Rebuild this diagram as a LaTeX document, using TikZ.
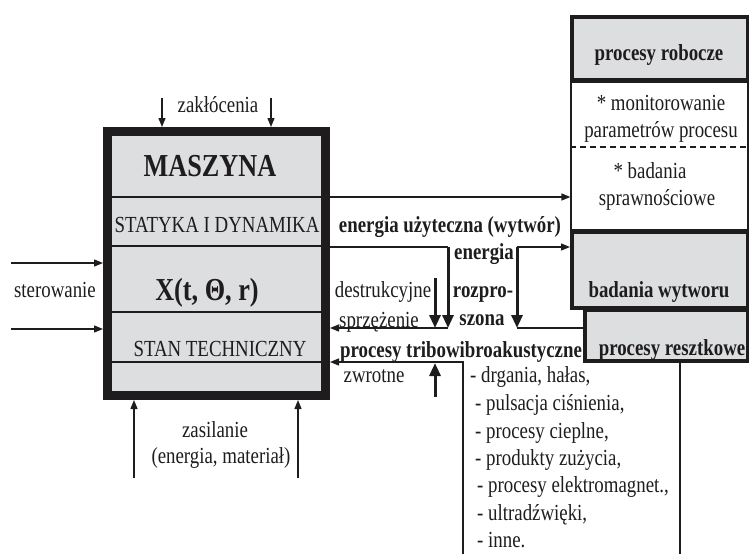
\documentclass[tikz,border=0pt]{standalone}
\usepackage{fontspec}
\setmainfont{Liberation Serif}[FakeStretch=0.82]
\usetikzlibrary{arrows.meta}
\definecolor{ink}{RGB}{30,28,29}
\definecolor{panel}{RGB}{221,222,224}
\tikzset{
  lbl/.style={anchor=base, inner sep=0pt, text=ink, font=\fontsize{23}{25}\selectfont},
  blbl/.style={lbl, font=\fontsize{23}{25}\selectfont\bfseries},
  biglbl/.style={lbl, font=\fontsize{32}{34}\selectfont\bfseries},
  item/.style={lbl, anchor=base west},
  thinline/.style={draw=ink, line width=1.3pt},
  arr/.style={thinline, -{Triangle[length=9pt,width=7pt]}},
  heavy/.style={draw=ink, line width=3pt, -{Triangle[length=13pt,width=11pt]}},
  mainbox/.style={draw=ink, fill=panel, line width=9pt, inner sep=0pt},
  graybox/.style={draw=ink, fill=panel, line width=4pt, inner sep=0pt},
  whitebox/.style={draw=ink, line width=1.2pt, inner sep=0pt},
}
\begin{document}
\begin{tikzpicture}[x=1pt,y=-1pt]
\useasboundingbox (0,0) rectangle (749,554);

% ---- right column: process panels ----
\node[whitebox, minimum width=177pt, minimum height=148pt] (monitor) at (659.5,156) {};
\coordinate (ydash) at (0,147);
\draw[ink, line width=1.3pt, dash pattern=on 6pt off 4pt] (monitor.west |- ydash) -- (monitor.east |- ydash);
\node[graybox, minimum width=176pt, minimum height=63pt] (robocze) at (660,48.5) {};
\node[graybox, minimum width=163pt, minimum height=51pt] (resztki) at (666.5,335.5) {};
\node[graybox, minimum width=176pt, minimum height=76pt] (wytwor) at (660,270) {};

\node[blbl] (trob) at (659,60) {procesy robocze};
\node[lbl] (tmon1) at (661,110) {* monitorowanie};
\node[lbl] (tmon2) at (661,137) {parametrów procesu};
\node[lbl] (tspr1) at (650,178) {* badania};
\node[lbl] (tspr2) at (657,205) {sprawnościowe};
\node[blbl] (twyt) at (659,297) {badania wytworu};
\node[blbl] (trez) at (672,355) {procesy resztkowe};

% ---- the machine block ----
\node[mainbox, minimum width=218pt, minimum height=264pt] (maszyna) at (216.5,263.5) {};
\coordinate (yA) at (0,197);
\coordinate (yB) at (0,246);
\coordinate (yC) at (0,312);
\coordinate (yD) at (0,362);
\foreach \lv in {yA,yB,yC,yD}
  \draw[thinline] (maszyna.west |- \lv) -- (maszyna.east |- \lv);

\node[lbl] (tzak) at (218,112) {zakłócenia};
\node[biglbl] (ttitle) at (210,176) {MASZYNA};
\node[lbl] (tstat) at (217,232) {STATYKA I DYNAMIKA};
\node[biglbl] (tstate) at (207,300) {X(t, Θ, r)};
\node[lbl] (tster) at (55,297) {sterowanie};
\node[lbl] (tstan) at (220,356) {STAN TECHNICZNY};
\node[lbl] (tzas1) at (215,437) {zasilanie};
\node[lbl] (tzas2) at (221,463) {(energia, materiał)};

% disturbances, control and supply inputs
\coordinate (zA) at (162,98);
\coordinate (zB) at (271,98);
\draw[arr] (zA) -- (zA |- maszyna.north);
\draw[arr] (zB) -- (zB |- maszyna.north);
\coordinate (sA) at (11,263);
\coordinate (sB) at (11,329);
\draw[arr] (sA) -- (sA -| maszyna.west);
\draw[arr] (sB) -- (sB -| maszyna.west);
\coordinate (pA) at (134,478);
\coordinate (pB) at (298,478);
\draw[arr] (pA) -- (pA |- maszyna.south);
\draw[arr] (pB) -- (pB |- maszyna.south);

% useful output
\draw[arr] (maszyna.east |- yA) -- (monitor.west |- yA);

% dissipated energy and destructive feedback
\coordinate (eBend) at (448,247);
\coordinate (eTip) at (448,328);
\draw[thinline] (maszyna.east |- eBend) -- (eBend);
\draw[heavy] (eBend) -- (eTip);
\coordinate (dTop) at (435,278);
\coordinate (dTip) at (435,328);
\draw[heavy] (dTop) -- (dTip);
\draw[arr] (eTip) -- (maszyna.east |- eTip);

\coordinate (rTop) at (517,247);
\coordinate (rBot) at (517,328);
\draw[arr] (rTop) -- (wytwor.west |- rTop);
\draw[heavy] (rTop) -- (rBot);
\draw[thinline] (rBot) -- (resztki.west |- rBot);

% tribo-vibro-acoustic feedback
\coordinate (fbEnd) at (463,554);
\coordinate (fbCorner) at (463,362);
\draw[arr] (fbEnd) -- (fbCorner) -- (maszyna.east |- fbCorner);
\coordinate (uBot) at (435,397);
\coordinate (uTip) at (435,363);
\draw[heavy] (uBot) -- (uTip);

\coordinate (resEnd) at (680,554);
\draw[thinline] (resztki.south -| resEnd) -- (resEnd);

\node[blbl] (tuse) at (450,232) {energia użyteczna (wytwór)};
\node[blbl] (ten1) at (484,259) {energia};
\node[blbl] (ten2) at (483,297) {rozpro-};
\node[blbl] (ten3) at (482,325) {szona};
\node[lbl] (tdes) at (383,297) {destrukcyjne};
\node[lbl] (tsprz) at (379,327) {sprzężenie};
\node[blbl] (ttribo) at (461,357) {procesy tribowibroakustyczne};
\node[lbl] (tzwr) at (374,382) {zwrotne};

\node[item] (i1) at (470,382) {- drgania, hałas,};
\node[item] (i2) at (475,410) {- pulsacja ciśnienia,};
\node[item] (i3) at (475,438) {- procesy cieplne,};
\node[item] (i4) at (475,465) {- produkty zużycia,};
\node[item] (i5) at (477,492) {- procesy elektromagnet.,};
\node[item] (i6) at (477,520) {- ultradźwięki,};
\node[item] (i7) at (477,547) {- inne.};
\end{tikzpicture}
\end{document}
